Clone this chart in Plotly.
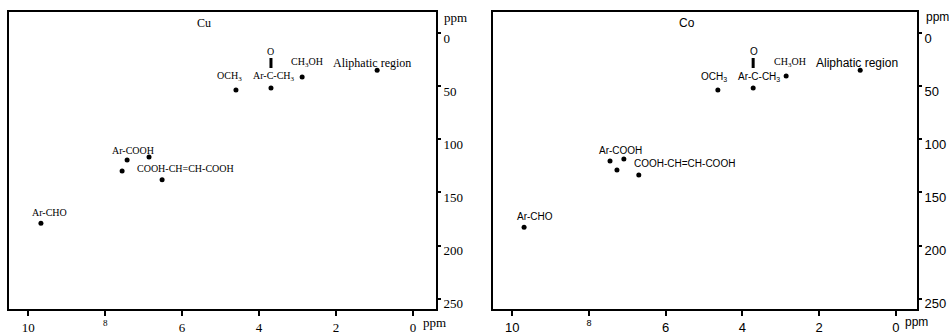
import plotly.graph_objects as go

# ---------------- data ----------------
x_ticks = [10, 8, 6, 4, 2, 0]
x_ticktext = ["10", "<sup>8</sup>", "6", "4", "2", "0"]
y_ticks = [0, 50, 100, 150, 200, 250]

# Cu panel: (1H ppm, 13C ppm)
cu_names = ["Aliphatic", "CH3OH", "Ar-CO-CH3", "OCH3", "Ar-COOH a", "Ar-COOH b",
            "Ar-COOH c", "COOH-CH=CH-COOH", "Ar-CHO"]
cu_h = [0.93, 2.88, 3.69, 4.60, 7.43, 6.86, 7.56, 6.52, 9.67]
cu_c = [35.0, 41.4, 51.6, 53.5, 119.5, 116.7, 129.8, 138.1, 179.0]

# Co panel
co_names = cu_names
co_h = [0.93, 2.86, 3.72, 4.64, 7.45, 7.09, 7.27, 6.70, 9.69]
co_c = [35.0, 40.5, 51.6, 53.5, 120.5, 118.6, 128.8, 133.5, 182.8]

SERIF = "Liberation Serif, Times New Roman, serif"
SANS = "Liberation Sans, Arial, sans-serif"

W, H = 949, 335

fig = go.Figure()

fig.add_trace(go.Scatter(x=cu_h, y=cu_c, mode="markers", xaxis="x", yaxis="y",
                         marker=dict(symbol="circle", size=5, color="black"),
                         text=cu_names, hoverinfo="text+x+y", showlegend=False))
fig.add_trace(go.Scatter(x=co_h, y=co_c, mode="markers", xaxis="x2", yaxis="y2",
                         marker=dict(symbol="circle", size=5, color="black"),
                         text=co_names, hoverinfo="text+x+y", showlegend=False))


def axis_x(domain, rng, anchor, font):
    return dict(domain=domain, range=rng, anchor=anchor,
                tickmode="array", tickvals=x_ticks, ticktext=x_ticktext,
                ticks="outside", ticklen=5, tickwidth=2, tickcolor="black",
                showline=True, linewidth=2, linecolor="black", mirror=True,
                showgrid=False, zeroline=False,
                tickfont=dict(family=font, size=13, color="black"))


def axis_y(anchor, font):
    return dict(domain=[1 - 313 / H, 1 - 12 / H], range=[260, -20], anchor=anchor,
                side="right", tickmode="array", tickvals=y_ticks,
                ticks="outside", ticklen=3, tickwidth=2, tickcolor="black",
                showline=True, linewidth=2, linecolor="black", mirror=True,
                showgrid=False, zeroline=False, ticklabelshift=-5,
                tickfont=dict(family=font, size=13, color="black"))


fig.update_layout(
    width=W, height=H,
    margin=dict(l=0, r=0, t=0, b=0),
    paper_bgcolor="white", plot_bgcolor="white",
    xaxis=axis_x([9 / W, 436 / W], [10.5, -0.6], "y", SERIF),
    yaxis=axis_y("x", SERIF),
    xaxis2=axis_x([493 / W, 917 / W], [10.5, -0.55], "y2", SANS),
    yaxis2=axis_y("x2", SANS),
)

ann = []


def lab(text, xref, yref, px, py, dx, dy, font, size=10):
    ann.append(dict(text=text, x=px, y=py, xref=xref, yref=yref, xshift=dx, yshift=dy,
                    showarrow=False, font=dict(family=font, size=size, color="black"),
                    xanchor="center", yanchor="middle"))


# Cu labels (index into data arrays)
lab("Aliphatic region", "x", "y", cu_h[0], cu_c[0], -5, 7, SERIF, 12)
lab("CH<sub>3</sub>OH", "x", "y", cu_h[1], cu_c[1], 5, 15, SERIF)
lab("Ar-C-CH<sub>3</sub>", "x", "y", cu_h[2], cu_c[2], 3, 11, SERIF)
lab("O", "x", "y", cu_h[2], cu_c[2], 0, 36, SERIF)
lab("OCH<sub>3</sub>", "x", "y", cu_h[3], cu_c[3], -6, 13, SERIF)
lab("Ar-COOH", "x", "y", cu_h[4], cu_c[4], 6, 10, SERIF)
lab("COOH-CH=CH-COOH", "x", "y", cu_h[7], cu_c[7], 23, 11, SERIF)
lab("Ar-CHO", "x", "y", cu_h[8], cu_c[8], 9, 11, SERIF)

# Co labels
lab("Aliphatic region", "x2", "y2", co_h[0], co_c[0], -3, 7, SANS, 12)
lab("CH<sub>3</sub>OH", "x2", "y2", co_h[1], co_c[1], 4, 14, SERIF)
lab("Ar-C-CH<sub>3</sub>", "x2", "y2", co_h[2], co_c[2], 6, 11, SANS)
lab("O", "x2", "y2", co_h[2], co_c[2], 1, 36, SANS)
lab("OCH<sub>3</sub>", "x2", "y2", co_h[3], co_c[3], -4, 13, SANS)
lab("Ar-COOH", "x2", "y2", co_h[4], co_c[4], 10, 11, SANS)
lab("COOH-CH=CH-COOH", "x2", "y2", co_h[7], co_c[7], 46, 11, SANS)
lab("Ar-CHO", "x2", "y2", co_h[8], co_c[8], 11, 11, SANS)


def paper(text, px, py, font, size=12):
    ann.append(dict(text=text, x=px / W, y=1 - py / H, xref="paper", yref="paper",
                    showarrow=False, font=dict(family=font, size=size, color="black"),
                    xanchor="center", yanchor="middle"))


paper("Cu", 204, 23, SERIF)
paper("Co", 687, 23, SANS)
paper("ppm", 455, 18, SERIF, 13)
paper("ppm", 434, 326, SERIF, 13)
paper("ppm", 937, 17, SANS, 12)
paper("ppm", 916, 326, SANS, 12)

fig.update_layout(annotations=ann)

# C=O double bond bars above the ketone points
for xr, yr, hx, cy in [("x", "y", cu_h[2], cu_c[2]), ("x2", "y2", co_h[2], co_c[2])]:
    fig.add_shape(type="rect", xref=xr, yref=yr,
                  xsizemode="pixel", xanchor=hx, x0=-1.5, x1=1.5,
                  ysizemode="pixel", yanchor=cy, y0=20, y1=30,
                  fillcolor="black", line=dict(width=0))

fig.write_html("out.html", config={"displayModeBar": False},
               post_script="document.body.style.margin='0';document.body.style.overflow='hidden';")
